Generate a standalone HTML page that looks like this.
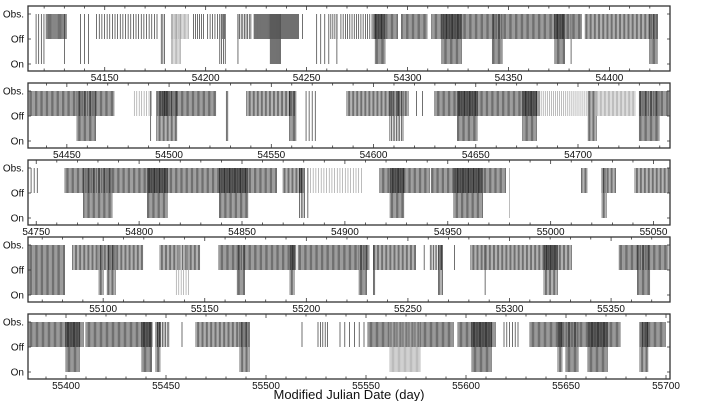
<!DOCTYPE html>
<html><head><meta charset="utf-8">
<style>
html,body{margin:0;padding:0;background:#fff;}
svg{display:block;font-family:"Liberation Sans",sans-serif;}
</style></head>
<body>
<svg id="chart" width="726" height="401" viewBox="0 0 726 401" xmlns="http://www.w3.org/2000/svg"></svg>
<script>
// panel day ranges
const panelStart = [54112, 54431, 54746, 55063, 55381];
const panelEnd   = [54430, 54745, 55058, 55379, 55702];
const stateLabels = ["Obs.", "Off", "On"];
// blocks: [startDay, endDay, state, stepDays, shade]  state: "off" (Obs->Off) or "on" (Obs->On); shade d=dark l=light
const blocks1 = [
 [54116,54120,"on",1.3,"d"],[54121,54131,"off",0.55,"d"],[54130,54130.5,"on",1,"d"],
 [54138,54142,"on",2,"d"],[54146,54177,"off",1.3,"d"],[54178,54180,"on",0.8,"d"],
 [54183,54192,"off",0.65,"l"],[54183,54188,"on",0.65,"l"],[54194,54199,"off",1,"d"],
 [54201,54210,"off",1.2,"d"],[54207,54210,"on",0.9,"d"],[54216,54216.5,"on",1,"d"],
 [54216,54223,"off",0.8,"d"],[54224,54246,"off",0.5,"d"],[54232,54237,"on",0.5,"d"],
 [54248,54248.5,"off",1,"d"],[54255,54262,"on",2,"d"],[54262,54265,"off",1,"d"],[54265,54265.5,"on",1,"d"],
 [54267,54283,"off",1.1,"d"],[54283,54295,"off",0.6,"d"],[54284,54289,"on",0.6,"d"],
 [54297,54310,"off",0.6,"d"],[54312,54386,"off",0.6,"d"],[54317,54327,"on",0.6,"d"],
 [54342,54347,"on",0.6,"d"],[54373,54378,"on",0.6,"d"],[54381,54381.5,"on",1,"d"],
 [54386,54386.5,"off",1,"d"],[54388,54424,"off",0.65,"d"],[54420,54424,"on",0.6,"d"]
];
const blocks2 = [
 [54431,54473,"off",0.6,"d"],[54455,54464,"on",0.6,"d"],[54483,54492,"off",1.2,"l"],[54491,54491.5,"on",1,"d"],
 [54494,54523,"off",0.6,"d"],[54494,54504,"on",0.65,"d"],[54528,54529,"on",0.7,"d"],
 [54538,54562,"off",0.65,"d"],[54559,54562,"on",0.6,"d"],[54567,54572,"on",1.5,"d"],
 [54587,54617,"off",0.65,"d"],[54608,54615,"on",0.8,"d"],[54621,54624,"off",3,"d"],
 [54630,54681,"off",0.6,"d"],[54641,54651,"on",0.6,"d"],[54673,54680,"on",0.6,"d"],
 [54682,54705,"off",1,"l"],[54705,54709,"on",0.65,"d"],[54709,54728,"off",0.65,"l"],
 [54730,54745,"off",0.6,"d"],[54730,54740,"on",0.6,"d"]
];
const blocks3 = [
 [54746,54751,"off",1.5,"d"],[54764,54787,"off",0.6,"d"],[54773,54787,"on",0.6,"d"],
 [54787,54867,"off",0.6,"d"],[54804,54814,"on",0.6,"d"],[54839,54853,"on",0.6,"d"],
 [54870,54880,"off",0.65,"d"],[54878,54881,"on",0.8,"d"],[54882,54908,"off",1.3,"l"],[54882,54882.5,"on",1,"d"],
 [54917,54941,"off",0.6,"d"],[54922,54929,"on",0.6,"d"],[54942,54978,"off",0.6,"d"],
 [54953,54967,"on",0.6,"d"],[54980,54980.5,"on",1,"l"],[55015,55018,"off",0.65,"d"],
 [55025,55032,"off",0.65,"d"],[55025,55027,"on",0.65,"d"],[55041,55058,"off",0.65,"d"]
];
const blocks4 = [
 [55063,55081,"on",0.6,"d"],[55085,55120,"off",0.65,"d"],[55098,55100,"on",0.65,"d"],[55102,55106,"on",0.65,"d"],
 [55128,55148,"off",0.65,"d"],[55136,55143,"on",1.2,"l"],[55157,55195,"off",0.6,"d"],
 [55166,55170,"on",0.6,"d"],[55192,55194,"on",0.65,"d"],[55196,55231,"off",0.6,"d"],
 [55226,55230,"on",0.6,"d"],[55233,55254,"off",0.65,"d"],[55233,55234,"on",0.65,"d"],
 [55258,55258.5,"off",1,"d"],[55261,55267,"off",0.8,"d"],[55265,55267,"on",0.65,"d"],
 [55273,55273.5,"off",1,"d"],[55281,55331,"off",0.65,"d"],[55288,55288.5,"on",1,"d"],
 [55317,55324,"on",0.65,"d"],[55354,55378,"off",0.6,"d"],[55363,55369,"on",0.6,"d"]
];
const blocks5 = [
 [55381,55409,"off",0.6,"d"],[55400,55407,"on",0.6,"d"],[55410,55443,"off",0.6,"d"],
 [55438,55443,"on",0.6,"d"],[55445,55452,"off",0.8,"d"],[55445,55447,"on",0.65,"d"],
 [55458,55458.5,"off",1,"d"],[55465,55492,"off",0.65,"d"],[55487,55492,"on",0.65,"d"],
 [55518,55518.5,"off",1,"d"],[55526,55531,"off",1.2,"d"],[55537,55549,"off",2.4,"d"],
 [55551,55594,"off",0.6,"d"],[55562,55577,"on",0.6,"l"],[55596,55615,"off",0.6,"d"],
 [55603,55613,"on",0.6,"d"],[55619,55626,"off",1.4,"d"],[55632,55677,"off",0.6,"d"],
 [55646,55648,"on",0.65,"d"],[55650,55656,"on",0.6,"d"],[55661,55671,"on",0.6,"d"],
 [55687,55700,"off",0.6,"d"],[55687,55691,"on",0.65,"d"]
];
const panelBlocks = [blocks1, blocks2, blocks3, blocks4, blocks5];

const NS = "http://www.w3.org/2000/svg";
const svg = document.getElementById("chart");
const L = 28, R = 670, TOP0 = 6, PITCH = 77, H = 65;
function mk(tag, attrs, parent) {
  const e = document.createElementNS(NS, tag);
  for (const k in attrs) e.setAttribute(k, attrs[k]);
  parent.appendChild(e);
  return e;
}
for (let p = 0; p < 5; p++) {
  const top = TOP0 + p * PITCH, bot = top + H;
  const g = mk("g", {}, svg);
  
  
  const xs = d => L + (d - panelStart[p]) / (panelEnd[p] - panelStart[p]) * (R - L);
  const yObs = top + 8, yOff = top + 33, yOn = top + 58;
  const ys = s => s === "on" ? yOn : yOff;
  const cid = "clip" + p;
  const cp = mk("clipPath", {id: cid}, g);
  mk("rect", {x: L, y: top, width: R - L, height: H}, cp);
  const marks = mk("g", {"clip-path": "url(#" + cid + ")"}, g);
  
  
  panelBlocks[p].forEach(b => {
    const [s, e, st, step, shade] = b;
    const col = shade === "l" ? "#a0a0a0" : "#333";
    let path = "";
    for (let d = s; d <= e + 1e-6; d += step) {
      const x = xs(d).toFixed(2);
      path += "M" + x + " " + yObs + "V" + ys(st);
    }
    const pe = mk("path", {d: path, stroke: col, "stroke-width": 0.7, fill: "none"}, marks);
    
    
  });
  const fr = mk("rect", {x: L, y: top, width: R - L, height: H, fill: "none", stroke: "#333", "stroke-width": 1.3}, g);
  
  
  const first = Math.ceil(panelStart[p] / 10) * 10;
  for (let d = first; d <= panelEnd[p]; d += 10) {
    const x = xs(d);
    const major = d % 50 === 0;
    const len = major ? 4 : 2.5;
    mk("line", {x1: x, x2: x, y1: bot, y2: bot - len, stroke: "#333", "stroke-width": 0.8}, g);
    mk("line", {x1: x, x2: x, y1: top, y2: top + len, stroke: "#333", "stroke-width": 0.8}, g);
    if (major) {
      const t = mk("text", {x: x, y: bot + 10, "font-size": 10, "text-anchor": "middle", fill: "#111"}, g);
      t.textContent = d;
      
      
    }
  }
  [yObs, yOff, yOn].forEach((y, i) => {
    mk("line", {x1: L, x2: L + 3, y1: y, y2: y, stroke: "#333", "stroke-width": 0.8}, g);
    mk("line", {x1: R, x2: R - 3, y1: y, y2: y, stroke: "#333", "stroke-width": 0.8}, g);
    const t = mk("text", {x: L - 4, y: y + 3.5, "font-size": 10, "text-anchor": "end", fill: "#111"}, g);
    t.textContent = stateLabels[i];
    
    
  });
}
const xt = mk("text", {x: 349, y: 399, "font-size": 13, "text-anchor": "middle", fill: "#111"}, svg);
xt.textContent = "Modified Julian Date (day)";


</script>
</body></html>
